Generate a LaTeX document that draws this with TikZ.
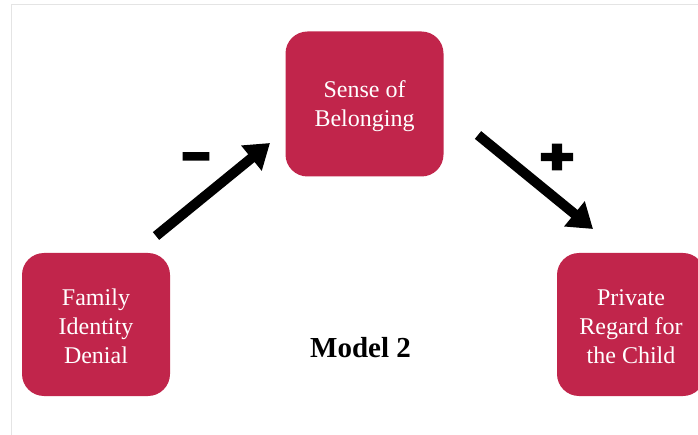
\documentclass[tikz,border=0pt]{standalone}
\usepackage{fontspec}
\setmainfont{Liberation Serif}
\newfontfamily\signfont[FakeBold=12]{DejaVu Sans}
\usetikzlibrary{arrows.meta}
\definecolor{crimson}{RGB}{193,37,75}
\definecolor{framegray}{RGB}{228,228,228}
\tikzset{
  box/.style={fill=crimson, rounded corners=22pt, text=white, align=center,
    font=\fontsize{24pt}{29pt}\selectfont, inner sep=0pt},
  bigarrow/.style={line width=10pt, -{Triangle[length=24pt,width=31pt]}},
  sign/.style={font=\signfont\bfseries\fontsize{36pt}{36pt}\selectfont, inner sep=0pt}
}
\newcommand{\topstrut}{\rule{0pt}{21pt}}
\begin{document}
\begin{tikzpicture}[x=1pt,y=-1pt]
\useasboundingbox (0,0) rectangle (698,435);
\draw[framegray, line width=1.5pt] (11.5,445) -- (11.5,4.5) -- (710,4.5);
\node[box, minimum width=158pt, minimum height=145pt] (sense) at (364.5,104) {\topstrut Sense of\\Belonging};
\node[box, minimum width=148pt, minimum height=143pt] (family) at (96,324.5) {\topstrut Family\\Identity\\Denial};
\node[box, minimum width=148pt, minimum height=143pt] (private) at (631,324.5) {\topstrut Private\\Regard for\\the Child};
\node[font=\bfseries\fontsize{29pt}{34pt}\selectfont, anchor=base] (model) at (360.5,357) {Model 2};
\coordinate (a1s) at (156,236);
\coordinate (a1e) at (270,143);
\coordinate (a2s) at (478,135);
\coordinate (a2e) at (593,229);
\draw[bigarrow] (a1s) -- (a1e);
\draw[bigarrow] (a2s) -- (a2e);
\node[sign] (minus) at (196,161) {\textminus};
\node[sign, xscale=1.2, yscale=1.0] (plus) at (557,157) {+};
\end{tikzpicture}
\end{document}
